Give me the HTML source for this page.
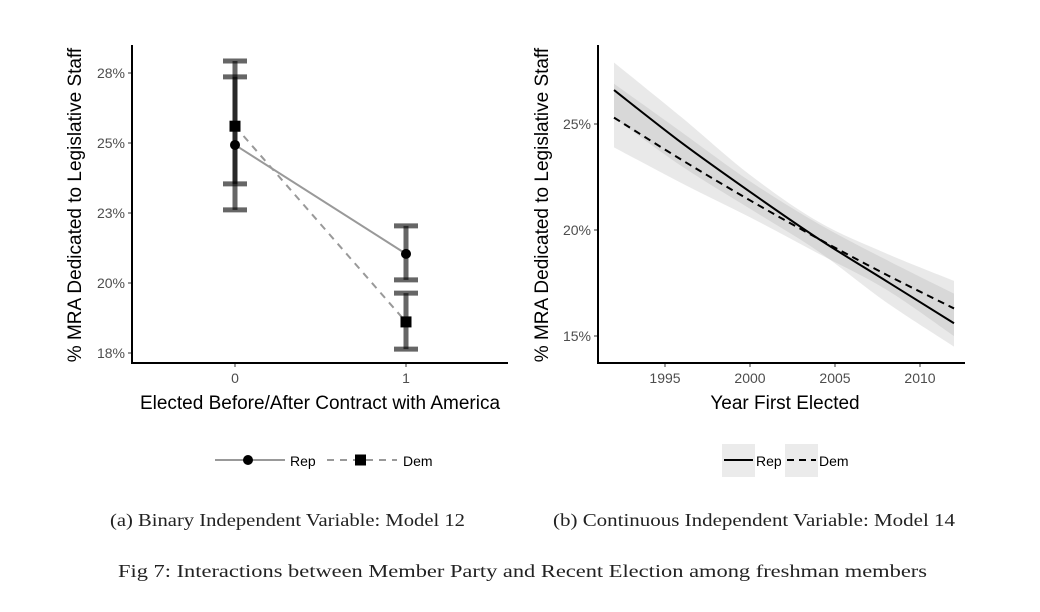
<!DOCTYPE html>
<html><head><meta charset="utf-8"><style>
body{margin:0;background:#fff;}
svg text{font-family:"Liberation Sans",sans-serif;}
.serif{font-family:"Liberation Serif",serif !important;}
</style></head><body>
<svg width="1040" height="607" viewBox="0 0 1040 607" xmlns="http://www.w3.org/2000/svg">
<g id="left"></g>
<g id="right"></g>
<text x="110" y="526" font-size="18" textLength="355" lengthAdjust="spacingAndGlyphs" class="serif" fill="#222">(a) Binary Independent Variable: Model 12</text>
<text x="553" y="526" font-size="18" textLength="402" lengthAdjust="spacingAndGlyphs" class="serif" fill="#222">(b) Continuous Independent Variable: Model 14</text>
<text x="118" y="577" font-size="18" textLength="809" lengthAdjust="spacingAndGlyphs" class="serif" fill="#222">Fig 7: Interactions between Member Party and Recent Election among freshman members</text>
</svg>
<script>
// Left chart data
const lCats=[0,1];
const repVals=[24.93,21.04], repLo=[23.54,20.11], repHi=[27.36,22.04];
const demVals=[25.6,18.61], demLo=[22.61,17.64], demHi=[27.93,19.64];
const lTicks=[17.5,20,22.5,25,27.5], lTickLabels=["18%","20%","23%","25%","28%"];
// Right chart data
const years=[1992,1996,2000,2004,2008,2012];
const repLine=[26.6,24.1,21.8,19.6,17.6,15.6];
const demLine=[25.3,23.3,21.4,19.6,17.9,16.3];
const repUp=[27.9,25.3,22.6,20.4,18.9,17.6], repDn=[25.3,23.0,21.0,19.0,16.6,14.5];
const demUp=[26.9,24.6,22.3,20.3,18.6,17.0], demDn=[23.9,22.2,20.6,18.9,17.2,15.0];
const rTicks=[15,20,25], rTickLabels=["15%","20%","25%"];
const xTicks=[1995,2000,2005,2010];

const NS="http://www.w3.org/2000/svg";
function mk(p,t,a){const e=document.createElementNS(NS,t);for(const k in a)e.setAttribute(k,a[k]);p.appendChild(e);return e;}
const L=document.getElementById('left'), R=document.getElementById('right');

// LEFT
const lx=v=>235+v*171, ly=v=>143-(v-25)*28;
lTicks.forEach((t,i)=>{
 let e=mk(L,'line',{x1:128,x2:132,y1:ly(t),y2:ly(t),stroke:'#333'});
 
 e=mk(L,'text',{x:125,y:ly(t)+5,'font-size':14,'text-anchor':'end',fill:'#4d4d4d'});e.textContent=lTickLabels[i];
 
});
lCats.forEach(c=>{
 let e=mk(L,'line',{x1:lx(c),x2:lx(c),y1:363,y2:367,stroke:'#333'});
 
 e=mk(L,'text',{x:lx(c),y:383,'font-size':14,'text-anchor':'middle',fill:'#4d4d4d'});e.textContent=String(c);
 
});
function ebar(c,lo,hi,nm){
 const g=mk(L,'g',{stroke:'#000','stroke-opacity':0.6,'stroke-width':5});
 
 mk(g,'line',{x1:lx(c),x2:lx(c),y1:ly(hi),y2:ly(lo)});
 mk(g,'line',{x1:lx(c)-12,x2:lx(c)+12,y1:ly(hi),y2:ly(hi)});
 mk(g,'line',{x1:lx(c)-12,x2:lx(c)+12,y1:ly(lo),y2:ly(lo)});
}
lCats.forEach((c,i)=>{ebar(c,repLo[i],repHi[i],'rep-error-bar');ebar(c,demLo[i],demHi[i],'dem-error-bar');});
let e=mk(L,'polyline',{points:lCats.map((c,i)=>lx(c)+','+ly(repVals[i])).join(' '),fill:'none',stroke:'#999','stroke-width':2});

e=mk(L,'polyline',{points:lCats.map((c,i)=>lx(c)+','+ly(demVals[i])).join(' '),fill:'none',stroke:'#999','stroke-width':2,'stroke-dasharray':'7 6'});

lCats.forEach((c,i)=>{
 let p=mk(L,'circle',{cx:lx(c),cy:ly(repVals[i]),r:5,fill:'#000'});
 
 p=mk(L,'rect',{x:lx(c)-5.5,y:ly(demVals[i])-5.5,width:11,height:11,fill:'#000'});
 
});
e=mk(L,'path',{d:'M132,45 V363 H508',fill:'none',stroke:'#000','stroke-width':2});

e=mk(L,'text',{x:320,y:409,'font-size':19,'text-anchor':'middle',fill:'#000'});e.textContent='Elected Before/After Contract with America';

e=mk(L,'text',{x:0,y:0,'font-size':19,'text-anchor':'middle',fill:'#000',transform:'translate(81,205) rotate(-90)'});e.textContent='% MRA Dedicated to Legislative Staff';

// left legend
e=mk(L,'line',{x1:215,x2:285,y1:460,y2:460,stroke:'#999','stroke-width':2});

e=mk(L,'circle',{cx:248,cy:460,r:5,fill:'#000'});

e=mk(L,'text',{x:290,y:466,'font-size':14,fill:'#000'});e.textContent='Rep';

e=mk(L,'line',{x1:327,x2:397,y1:460,y2:460,stroke:'#999','stroke-width':2,'stroke-dasharray':'7 6'});

e=mk(L,'rect',{x:355,y:454.5,width:11,height:11,fill:'#000'});

e=mk(L,'text',{x:403,y:466,'font-size':14,fill:'#000'});e.textContent='Dem';


// RIGHT
const rx=y=>665+(y-1995)*17, ry=v=>124-(v-25)*21.2;
function smooth(pts){
 let d='M'+pts[0][0]+','+pts[0][1];
 for(let i=0;i<pts.length-1;i++){
  const p0=pts[Math.max(0,i-1)],p1=pts[i],p2=pts[i+1],p3=pts[Math.min(pts.length-1,i+2)];
  const c1=[p1[0]+(p2[0]-p0[0])/6,p1[1]+(p2[1]-p0[1])/6],c2=[p2[0]-(p3[0]-p1[0])/6,p2[1]-(p3[1]-p1[1])/6];
  d+=' C'+c1+' '+c2+' '+p2;
 }
 return d;
}
function band(up,dn,nm){
 const top=years.map((y,i)=>[rx(y),ry(up[i])]);
 const bot=years.map((y,i)=>[rx(y),ry(dn[i])]).reverse();
 const d=smooth(top)+' L'+bot[0]+smooth(bot).replace(/^M[^ ]+/,'')+' Z';
 const b=mk(R,'path',{d:d,fill:'#999','fill-opacity':0.22});
 
}
band(repUp,repDn,'rep-ci-band');band(demUp,demDn,'dem-ci-band');
const curve=vals=>smooth(years.map((y,i)=>[rx(y),ry(vals[i])]));
e=mk(R,'path',{d:curve(repLine),fill:'none',stroke:'#000','stroke-width':2});

e=mk(R,'path',{d:curve(demLine),fill:'none',stroke:'#000','stroke-width':2,'stroke-dasharray':'7 5'});

rTicks.forEach((t,i)=>{
 let q=mk(R,'line',{x1:594,x2:598,y1:ry(t),y2:ry(t),stroke:'#333'});
 
 q=mk(R,'text',{x:591,y:ry(t)+5,'font-size':14,'text-anchor':'end',fill:'#4d4d4d'});q.textContent=rTickLabels[i];
 
});
xTicks.forEach(t=>{
 let q=mk(R,'line',{x1:rx(t),x2:rx(t),y1:363,y2:367,stroke:'#333'});
 
 q=mk(R,'text',{x:rx(t),y:383,'font-size':14,'text-anchor':'middle',fill:'#4d4d4d'});q.textContent=String(t);
 
});
e=mk(R,'path',{d:'M598,45 V363 H965',fill:'none',stroke:'#000','stroke-width':2});

e=mk(R,'text',{x:785,y:409,'font-size':19,'text-anchor':'middle',fill:'#000'});e.textContent='Year First Elected';

e=mk(R,'text',{x:0,y:0,'font-size':19,'text-anchor':'middle',fill:'#000',transform:'translate(548,205) rotate(-90)'});e.textContent='% MRA Dedicated to Legislative Staff';

// right legend
e=mk(R,'rect',{x:722,y:444,width:33,height:33,fill:'#ebebeb'});

e=mk(R,'line',{x1:724,x2:753,y1:460,y2:460,stroke:'#000','stroke-width':2});

e=mk(R,'text',{x:756,y:466,'font-size':14,fill:'#000'});e.textContent='Rep';

e=mk(R,'rect',{x:785,y:444,width:33,height:33,fill:'#ebebeb'});

e=mk(R,'line',{x1:787,x2:816,y1:460,y2:460,stroke:'#000','stroke-width':2,'stroke-dasharray':'7 5'});

e=mk(R,'text',{x:819,y:466,'font-size':14,fill:'#000'});e.textContent='Dem';

</script>
</body></html>
